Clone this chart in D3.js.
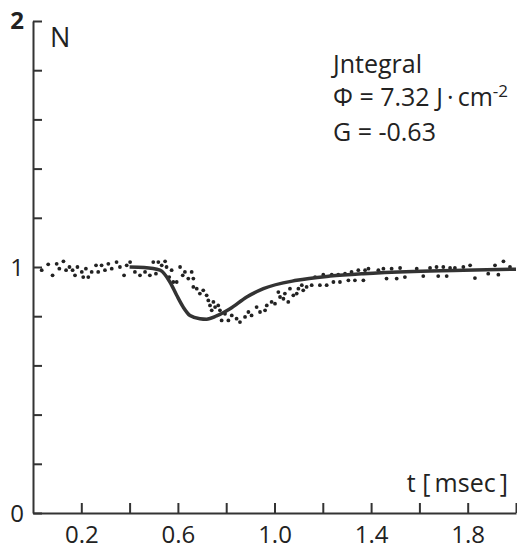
<!DOCTYPE html>
<html>
<head>
<meta charset="utf-8">
<script src="https://cdn.jsdelivr.net/npm/d3@7"></script>
<style>
  body { margin: 0; background: #fff; }
  text { font-family: "Open Sans", sans-serif; fill: #222; }
</style>
</head>
<body>
<div id="chart"></div>
<script>
// Measured points (t in msec, N normalised)
const dotT = [0.036, 0.063, 0.081, 0.098, 0.109, 0.126, 0.137, 0.151, 0.164, 0.174, 0.184, 0.202, 0.208, 0.219, 0.229, 0.243, 0.261, 0.270, 0.284, 0.298, 0.312, 0.326, 0.346, 0.360, 0.377, 0.388, 0.402,
  0.422, 0.443, 0.464, 0.484, 0.498, 0.509, 0.519, 0.533, 0.547, 0.553, 0.564, 0.574, 0.581, 0.595,
  0.609, 0.620, 0.629, 0.643, 0.657, 0.664, 0.664, 0.678, 0.691, 0.705, 0.719, 0.726, 0.733, 0.740, 0.747, 0.754, 0.767, 0.774, 0.781, 0.795, 0.809, 0.823, 0.843, 0.857, 0.878, 0.892, 0.905, 0.926, 0.940, 0.961, 0.968, 0.988, 1.002, 1.016, 1.023, 1.037, 1.043, 1.057, 1.064, 1.078, 1.092, 1.099, 1.113, 1.119, 1.133, 1.154, 1.168, 1.188, 1.202, 1.216, 1.237, 1.244, 1.264, 1.271, 1.292, 1.306, 1.319, 1.333, 1.347, 1.368, 1.375, 1.389, 1.430, 1.451, 1.464, 1.485, 1.506, 1.520, 1.540, 1.589, 1.616, 1.644, 1.671, 1.678, 1.699, 1.713, 1.727, 1.747, 1.782, 1.810, 1.830, 1.885, 1.913, 1.927, 1.948, 1.975];
const dotN = [0.987, 1.011, 0.966, 1.013, 0.993, 1.023, 0.987, 1.000, 0.987, 0.966, 1.000, 0.980, 0.959, 0.993, 0.959, 0.980, 1.007, 0.980, 1.007, 0.987, 1.013, 0.993, 1.020, 1.000, 0.966, 1.007, 1.020,
  0.980, 0.966, 0.980, 0.966, 1.020, 0.973, 1.020, 1.007, 1.023, 1.000, 0.959, 0.987, 0.939, 0.939,
  1.000, 0.966, 0.980, 0.953, 0.980, 0.953, 0.919, 0.912, 0.892, 0.905, 0.885, 0.864, 0.844, 0.824, 0.858, 0.837, 0.844, 0.824, 0.783, 0.810, 0.783, 0.803, 0.790, 0.776, 0.797, 0.817, 0.803, 0.837, 0.817, 0.824, 0.844, 0.858, 0.851, 0.898, 0.878, 0.871, 0.892, 0.858, 0.912, 0.885, 0.892, 0.912, 0.926, 0.905, 0.919, 0.926, 0.959, 0.926, 0.969, 0.926, 0.969, 0.939, 0.969, 0.939, 0.973, 0.946, 0.980, 0.946, 0.987, 0.946, 0.987, 0.993, 0.987, 0.993, 0.953, 0.993, 0.953, 0.996, 0.959, 0.993, 0.963, 0.996, 1.000, 0.963, 1.000, 0.963, 0.996, 0.996, 1.000, 1.007, 0.955, 0.973, 1.007, 0.969, 1.023, 1.000];

// Fitted curve
const fitT = [0.40, 0.46, 0.526, 0.567, 0.595, 0.622, 0.650, 0.691, 0.719, 0.760, 0.816, 0.885, 0.954, 1.092, 1.23, 1.368, 1.575, 1.782, 2.0];
const fitN = [1.0, 0.998, 0.987, 0.939, 0.885, 0.837, 0.803, 0.790, 0.788, 0.801, 0.830, 0.878, 0.912, 0.946, 0.963, 0.973, 0.982, 0.987, 0.991];

const xTicks = [0.2, 0.4, 0.6, 0.8, 1.0, 1.2, 1.4, 1.6, 1.8, 2.0];
const xLabels = [0.2, 0.6, 1.0, 1.4, 1.8];
const yTicks = [0, 0.2, 0.4, 0.6, 0.8, 1.0, 1.2, 1.4, 1.6, 1.8, 2.0];
const yLabels = [0, 1, 2];

const width = 517, height = 549;

const svg = d3.select("#chart").append("svg")
    .attr("width", width)
    .attr("height", height);

const x = d3.scaleLinear().domain([0, 2]).range([33, 516]);
const y = d3.scaleLinear().domain([0, 2]).range([513, 21]);

// x axis, ticks pointing up
const xAxis = svg.append("g")
    .attr("transform", `translate(0,${y(0)})`)
    .call(d3.axisBottom(x)
        .tickValues(xTicks)
        .tickSize(-10)
        .tickSizeOuter(0)
        .tickPadding(14)
        .tickFormat(d => xLabels.some(v => Math.abs(v - d) < 1e-9) ? d3.format(".1f")(d) : ""));

// y axis, ticks pointing right
const yAxis = svg.append("g")
    .attr("transform", `translate(${x(0)},0)`)
    .call(d3.axisLeft(y)
        .tickValues(yTicks)
        .tickSize(-9)
        .tickSizeOuter(0)
        .tickPadding(9)
        .tickFormat(d => yLabels.includes(d) ? d3.format("d")(d) : ""));

svg.selectAll(".domain, .tick line")
    .attr("stroke", "#333")
    .attr("stroke-width", 2);
svg.selectAll(".tick text")
    .style("font-family", "'Open Sans', sans-serif")
    .style("font-size", "24px")
    .attr("fill", "#222");
xAxis.selectAll(".tick text").attr("dy", "0.68em");
yAxis.selectAll(".tick text").attr("dy", "0.36em");
yAxis.selectAll(".tick text").filter(d => d === 2).style("font-weight", "bold").attr("dy", "0.3em");

// measured dots
svg.append("g")
  .selectAll("circle")
  .data(dotT.map((t, i) => [t, dotN[i]]))
  .join("circle")
    .attr("cx", d => x(d[0]))
    .attr("cy", d => y(d[1]))
    .attr("r", 1.9)
    .attr("fill", "#222");

// fit curve
const line = d3.line()
    .x(d => x(d[0]))
    .y(d => y(d[1]))
    .curve(d3.curveMonotoneX);

svg.append("path")
    .datum(fitT.map((t, i) => [t, fitN[i]]))
    .attr("d", line)
    .attr("fill", "none")
    .attr("stroke", "#333")
    .attr("stroke-width", 3.5);

// labels
svg.append("text")
    .attr("x", 50).attr("y", 47)
    .style("font-size", "27px")
    .style("font-weight", "500")
    .text("N");

svg.append("text")
    .attr("x", 508).attr("y", 492)
    .attr("text-anchor", "end")
    .style("font-size", "25px")
    .style("white-space", "pre")
    .text("t [\u2009msec\u2009]");

svg.append("text")
    .attr("x", 333).attr("y", 73)
    .style("font-size", "25px")
    .text("Jntegral");

const phi = svg.append("text")
    .attr("x", 333).attr("y", 106)
    .style("font-size", "25px");
phi.append("tspan").text("Φ = 7.32 J\u2009·\u2009cm");
phi.append("tspan")
    .attr("dy", -9)
    .style("font-size", "17px")
    .text("-2");

svg.append("text")
    .attr("x", 333).attr("y", 141)
    .style("font-size", "25px")
    .text("G = -0.63");
</script>
</body>
</html>
